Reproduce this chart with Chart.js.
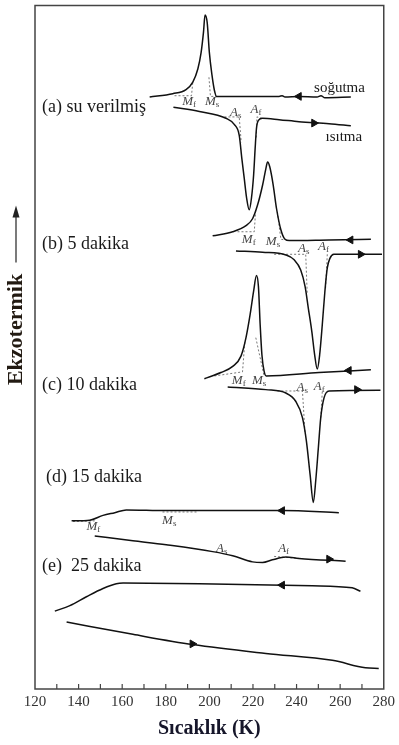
<!DOCTYPE html>
<html>
<head>
<meta charset="utf-8">
<script src="https://cdn.jsdelivr.net/npm/chart.js@4"></script>
<style>
  html, body { margin: 0; padding: 0; background: #fff; }
</style>
</head>
<body>
<canvas id="dscChart" width="399" height="745"></canvas>
<script>
// DSC curves: temperature (K) against heat flow (arbitrary units, exo up).
// (a) quenched sample
const aCoolT = [172.6, 183.2, 189.3, 192.4, 194.7, 196.2, 197.3, 198.0, 199.0, 200.0, 201.2, 202.3, 203.3, 213.7, 232.0, 233.4, 234.7, 241.1, 249.4, 251.2, 253.0, 264.9];
const aCoolY = [86.6, 87.1, 87.7, 88.8, 90.7, 93.1, 96.1, 98.6, 97.5, 93.1, 89.8, 87.6, 86.7, 86.7, 86.7, 86.8, 86.6, 86.7, 86.6, 86.8, 86.5, 86.6];
const aHeatT = [183.5, 195.4, 207.6, 211.4, 213.7, 214.9, 216.0, 217.1, 218.3, 219.3, 220.3, 221.0, 221.6, 222.5, 224.4, 232.0, 241.1, 254.9, 264.9];
const aHeatY = [85.1, 84.5, 83.5, 82.6, 81.0, 77.6, 74.7, 71.8, 70.1, 71.8, 75.2, 79.1, 82.0, 83.2, 83.5, 83.3, 83.0, 82.7, 82.4];

// (b) 5 min
const bCoolT = [201.5, 210.7, 216.8, 219.8, 222.1, 224.4, 225.9, 226.7, 227.7, 229.3, 230.8, 232.8, 234.7, 236.6, 254.9, 274.1];
const bCoolY = [66.3, 66.9, 67.8, 68.8, 70.8, 73.7, 76.1, 77.1, 76.4, 73.7, 70.3, 67.2, 65.8, 65.6, 65.7, 65.8];
const bHeatT = [212.2, 224.4, 235.1, 238.9, 241.9, 243.9, 245.4, 247.0, 248.3, 249.5, 250.6, 251.8, 253.0, 254.1, 255.3, 257.1, 279.2];
const bHeatY = [64.1, 63.9, 63.5, 62.8, 61.3, 58.9, 55.7, 52.3, 48.9, 46.8, 48.9, 53.3, 58.2, 61.6, 63.0, 63.6, 63.6];

// (c) 10 min
const cCoolT = [197.7, 205.3, 210.7, 214.5, 216.8, 218.7, 220.3, 221.6, 222.5, 223.3, 224.1, 225.1, 226.1, 250.3, 274.1];
const cCoolY = [45.4, 46.3, 47.2, 48.7, 51.4, 54.8, 58.2, 60.5, 58.9, 53.3, 48.9, 46.5, 45.8, 46.3, 46.7];
const cHeatT = [208.4, 225.9, 235.1, 239.6, 242.7, 244.5, 246.2, 247.7, 248.8, 250.0, 251.1, 252.6, 254.9, 278.5];
const cHeatY = [44.2, 43.8, 43.3, 42.1, 39.7, 36.3, 31.4, 27.3, 30.5, 35.3, 39.7, 42.6, 43.6, 43.7];

// (d) 15 min
const dCoolT = [136.8, 145.1, 151.2, 156.6, 161.9, 180.2, 233.5, 259.4];
const dCoolY = [24.6, 24.7, 25.4, 25.8, 26.2, 26.1, 26.1, 25.8];
const dHeatT = [147.4, 164.9, 180.2, 201.5, 210.7, 219.8, 224.4, 228.9, 235.1, 241.1, 262.5];
const dHeatY = [22.4, 21.7, 21.1, 20.1, 19.5, 18.6, 18.5, 18.9, 19.3, 19.1, 18.7];

// (e) 25 min
const eCoolT = [129.1, 136.0, 143.6, 151.2, 157.3, 160.4, 195.4, 247.2, 265.5, 269.3];
const eCoolY = [11.4, 12.2, 13.5, 14.7, 15.4, 15.5, 15.4, 15.1, 14.8, 14.3];
const eHeatT = [134.5, 164.9, 192.4, 225.9, 256.4, 271.6, 277.7];
const eHeatY = [9.8, 8.0, 6.5, 5.2, 4.2, 3.1, 3.0];

// dashed onset/finish construction lines
const guideT = [
  [184.0, 191.8, 192.4], [199.8, 200.5, 203.2],
  [206.9, 213.7, 214.6], [224.2, 221.8, 221.5],
  [212.9, 220.6, 221.3], [231.2, 232.8, 234.7],
  [229.7, 244.2, 244.9], [254.1, 253.3],
  [202.3, 215.2, 216.3], [221.3, 225.1],
  [231.2, 242.7, 243.9], [251.8, 251.1],
  [137.4, 147.4], [178.5, 194.5], [229.7, 241.1]
];
const guideY = [
  [86.8, 86.8, 88.8], [89.5, 86.7, 86.7],
  [83.7, 83.7, 80.0], [83.5, 83.7, 80.5],
  [66.9, 66.9, 70.3], [69.8, 65.8, 65.7],
  [63.6, 63.6, 57.7], [63.6, 58.6],
  [45.8, 46.4, 50.9], [51.4, 45.8],
  [43.6, 43.6, 37.3], [43.5, 39.7],
  [24.5, 24.6], [25.9, 25.9], [19.4, 19.1]
];

// arrow heads on the curves (rotation: 90 = heating, 270 = cooling)
const arrowT = [241.1, 248.0, 264.8, 269.4, 264.0, 267.7, 233.4, 254.9, 233.4, 192.2];
const arrowY = [86.7, 82.8, 65.7, 63.6, 46.6, 43.8, 26.1, 19.0, 15.2, 6.6];
const arrowRot = [270, 90, 270, 90, 270, 90, 270, 90, 270, 90];

// transformation temperature labels
const phaseMain = ['M', 'M', 'A', 'A', 'M', 'M', 'A', 'A', 'M', 'M', 'A', 'A', 'M', 'M', 'A', 'A'];
const phaseSub = ['f', 's', 's', 'f', 'f', 's', 's', 'f', 'f', 's', 's', 'f', 'f', 's', 's', 'f'];
const phaseT = [190.9, 201.4, 212.2, 221.6, 218.3, 229.3, 243.4, 252.6, 213.7, 222.9, 242.7, 250.6, 147.0, 181.7, 205.8, 234.3];
const phaseY = [85.9, 85.9, 84.3, 84.8, 65.8, 65.5, 64.5, 64.7, 45.1, 45.1, 44.1, 44.2, 23.7, 24.6, 20.5, 20.5];

const sampleNames = ['(a) su verilmiş', '(b) 5 dakika', '(c) 10 dakika', '(d) 15 dakika', '(e)  25 dakika'];
const sampleT = [123.2, 123.2, 123.2, 125.0, 123.2];
const sampleY = [85.1, 65.0, 44.5, 31.0, 17.9];

const modeNames = ['soğutma', 'ısıtma'];
const modeT = [259.7, 261.7];
const modeY = [87.9, 80.7];

const xTicks = [120, 140, 160, 180, 200, 220, 240, 260, 280];

const zip = (xs, ys) => xs.map((x, i) => ({ x: x, y: ys[i] }));

const curve = (xs, ys) => ({
  data: zip(xs, ys),
  borderColor: '#111',
  borderWidth: 1.5,
  pointRadius: 0,
  cubicInterpolationMode: 'monotone',
  showLine: true
});

const guide = (xs, ys) => ({
  data: zip(xs, ys),
  borderColor: '#555',
  borderWidth: 0.8,
  borderDash: [2, 2],
  pointRadius: 0,
  tension: 0,
  showLine: true
});

const datasets = [
  curve(aCoolT, aCoolY), curve(aHeatT, aHeatY),
  curve(bCoolT, bCoolY), curve(bHeatT, bHeatY),
  curve(cCoolT, cCoolY), curve(cHeatT, cHeatY),
  curve(dCoolT, dCoolY), curve(dHeatT, dHeatY),
  curve(eCoolT, eCoolY), curve(eHeatT, eHeatY)
];
guideT.forEach((t, i) => datasets.push(guide(t, guideY[i])));
datasets.push({
  data: zip(arrowT, arrowY),
  pointStyle: 'triangle',
  pointRadius: 4.5,
  pointRotation: arrowRot,
  backgroundColor: '#111',
  borderColor: '#111',
  borderWidth: 1,
  showLine: false
});

// frame, inner ticks and all the text that sits on the plot
const decorations = {
  id: 'decorations',
  afterDatasetsDraw(chart) {
    const ctx = chart.ctx;
    const area = chart.chartArea;
    const xs = chart.scales.x;
    const ys = chart.scales.y;
    ctx.save();

    // frame
    ctx.strokeStyle = '#444';
    ctx.lineWidth = 1.5;
    ctx.strokeRect(area.left, area.top, area.right - area.left, area.bottom - area.top);

    // inward ticks every 10 K
    ctx.lineWidth = 1.2;
    for (let t = 130; t < 280; t += 10) {
      const px = xs.getPixelForValue(t);
      ctx.beginPath();
      ctx.moveTo(px, area.bottom);
      ctx.lineTo(px, area.bottom - 5);
      ctx.stroke();
    }

    // Mf / Ms / As / Af
    ctx.fillStyle = '#444';
    ctx.textBaseline = 'middle';
    phaseMain.forEach((m, i) => {
      const px = xs.getPixelForValue(phaseT[i]);
      const py = ys.getPixelForValue(phaseY[i]);
      ctx.font = 'italic 13px "Liberation Serif"';
      const w = ctx.measureText(m).width;
      ctx.textAlign = 'left';
      ctx.fillText(m, px - w / 2 - 2, py);
      ctx.font = '9px "Liberation Serif"';
      ctx.fillText(phaseSub[i], px + w / 2 - 2, py + 3);
    });

    // sample names
    ctx.fillStyle = '#1a1a1a';
    ctx.font = '18px "Liberation Serif"';
    ctx.textAlign = 'left';
    sampleNames.forEach((s, i) => {
      ctx.fillText(s, xs.getPixelForValue(sampleT[i]), ys.getPixelForValue(sampleY[i]));
    });

    // cooling / heating
    ctx.font = '15px "Liberation Serif"';
    ctx.textAlign = 'center';
    modeNames.forEach((s, i) => {
      ctx.fillText(s, xs.getPixelForValue(modeT[i]), ys.getPixelForValue(modeY[i]));
    });

    // y label with arrow
    const lx = area.left - 19;
    const ly = area.top + (area.bottom - area.top) * 0.474;
    ctx.save();
    ctx.translate(lx, ly);
    ctx.rotate(-Math.PI / 2);
    ctx.fillStyle = '#221a12';
    ctx.font = 'bold 22px "Liberation Serif"';
    ctx.textAlign = 'center';
    ctx.fillText('Ekzotermik', 0, 0);
    ctx.restore();

    ctx.strokeStyle = '#222';
    ctx.fillStyle = '#222';
    ctx.lineWidth = 1.2;
    ctx.beginPath();
    ctx.moveTo(lx, ly - 67);
    ctx.lineTo(lx, ly - 118);
    ctx.stroke();
    ctx.beginPath();
    ctx.moveTo(lx, ly - 124);
    ctx.lineTo(lx - 3.5, ly - 112);
    ctx.lineTo(lx + 3.5, ly - 112);
    ctx.closePath();
    ctx.fill();

    ctx.restore();
  }
};

new Chart(document.getElementById('dscChart'), {
  type: 'scatter',
  data: { datasets: datasets },
  options: {
    responsive: false,
    animation: false,
    devicePixelRatio: 1,
    layout: { padding: { left: 35, right: 14, top: 3, bottom: 0 } },
    plugins: {
      legend: { display: false },
      tooltip: { enabled: false }
    },
    scales: {
      x: {
        type: 'linear',
        min: 120,
        max: 280,
        afterFit: (scale) => { scale.height = 56; },
        afterBuildTicks: (scale) => { scale.ticks = xTicks.map(v => ({ value: v })); },
        grid: { display: false, drawTicks: false },
        border: { display: false },
        ticks: {
          autoSkip: false,
          maxRotation: 0,
          padding: 4,
          color: '#333',
          font: { family: '"Liberation Serif"', size: 15 }
        },
        title: {
          display: true,
          text: 'Sıcaklık (K)',
          color: '#16162a',
          font: { family: '"Liberation Serif"', size: 20, weight: 'bold' },
          padding: { top: 0, bottom: 4 }
        }
      },
      y: {
        display: false,
        min: 0,
        max: 100
      }
    }
  },
  plugins: [decorations]
});
</script>
</body>
</html>
